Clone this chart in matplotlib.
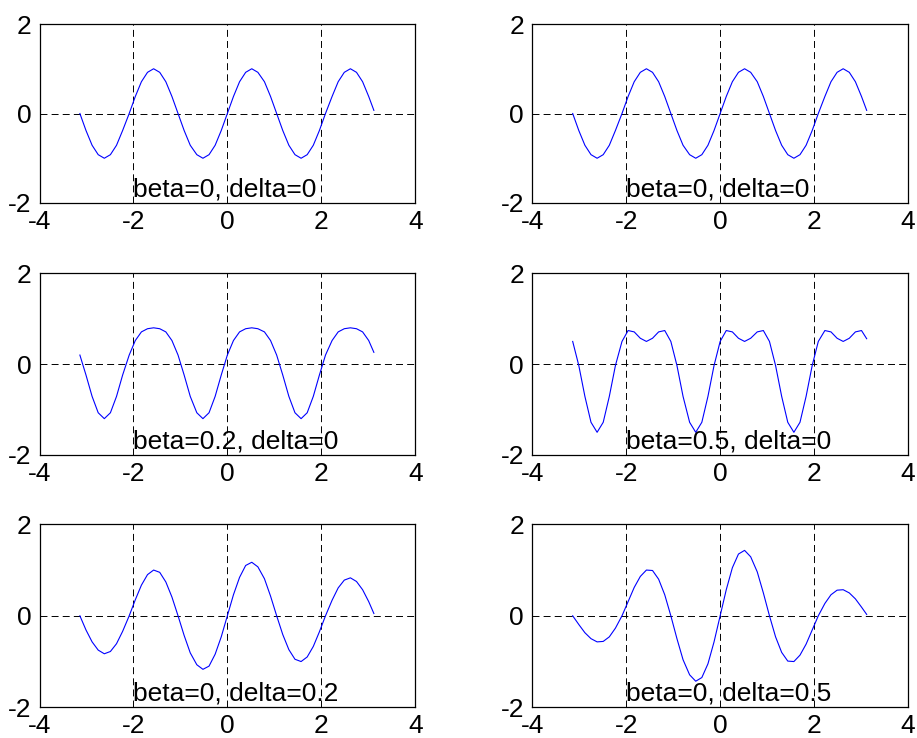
import matplotlib as mpl
mpl.use('Agg')
import matplotlib.pyplot as plt

plt.rc('font', family='Liberation Sans', size=19)
plt.rc('lines', scale_dashes=False)
plt.rc('axes', unicode_minus=False)

# sample points, -pi .. pi
x = [-3.14, -3.01, -2.88, -2.75, -2.62, -2.49, -2.36, -2.23,
     -2.09, -1.96, -1.83, -1.70, -1.57, -1.44, -1.31, -1.18,
     -1.05, -0.92, -0.79, -0.65, -0.52, -0.39, -0.26, -0.13,
     0.00, 0.13, 0.26, 0.39, 0.52, 0.65, 0.79, 0.92,
     1.05, 1.18, 1.31, 1.44, 1.57, 1.70, 1.83, 1.96,
     2.09, 2.23, 2.36, 2.49, 2.62, 2.75, 2.88, 3.01, 3.12]

y_b0_d0 = [0, -.38, -.71, -.92, -1, -.92, -.71, -.38,
           0, .38, .71, .92, 1, .92, .71, .38,
           0, -.38, -.71, -.92, -1, -.92, -.71, -.38,
           0, .38, .71, .92, 1, .92, .71, .38,
           0, -.38, -.71, -.92, -1, -.92, -.71, -.38,
           0, .38, .71, .92, 1, .92, .71, .38, .07]

y_b02 = [.2, -.24, -.71, -1.07, -1.2, -1.07, -.71, -.24,
         .2, .52, .71, .78, .8, .78, .71, .52,
         .2, -.24, -.71, -1.07, -1.2, -1.07, -.71, -.24,
         .2, .52, .71, .78, .8, .78, .71, .52,
         .2, -.24, -.71, -1.07, -1.2, -1.07, -.71, -.24,
         .2, .52, .71, .78, .8, .78, .71, .52, .26]

y_b05 = [.5, -.03, -.71, -1.28, -1.5, -1.28, -.71, -.03,
         .5, .74, .71, .57, .5, .57, .71, .74,
         .5, -.03, -.71, -1.28, -1.5, -1.28, -.71, -.03,
         .5, .74, .71, .57, .5, .57, .71, .74,
         .5, -.03, -.71, -1.28, -1.5, -1.28, -.71, -.03,
         .5, .74, .71, .57, .5, .57, .71, .74, .56]

y_d02 = [0, -.31, -.57, -.75, -.83, -.78, -.61, -.34,
         0, .35, .67, .90, 1.0, .95, .74, .41,
         0, -.43, -.81, -1.07, -1.17, -1.10, -.84, -.46,
         0, .46, .84, 1.10, 1.17, 1.07, .81, .43,
         0, -.41, -.74, -.95, -1.0, -.90, -.67, -.35,
         0, .34, .61, .78, .83, .75, .57, .31, .05]

y_d05 = [0, -.19, -.37, -.50, -.57, -.56, -.46, -.27,
         0, .31, .62, .86, 1.0, .99, .80, .46,
         0, -.50, -.96, -1.29, -1.43, -1.35, -1.05, -.57,
         0, .57, 1.05, 1.35, 1.43, 1.29, .96, .50,
         0, -.46, -.80, -.99, -1.0, -.86, -.62, -.31,
         0, .27, .46, .56, .57, .50, .37, .19, .03]

series = [y_b0_d0, y_b0_d0, y_b02, y_b05, y_d02, y_d05]
labels = ["beta=0, delta=0", "beta=0, delta=0",
          "beta=0.2, delta=0", "beta=0.5, delta=0",
          "beta=0, delta=0.2", "beta=0, delta=0.5"]

W, H = 917, 738
lefts = [39.5, 532.3]
width = 375.7
rows = [(24, 203), (273.3, 455), (524.3, 707.3)]

fig = plt.figure(figsize=(W / 100, H / 100), dpi=100)
for i, (y, lab) in enumerate(zip(series, labels)):
    r, c = divmod(i, 2)
    top, bot = rows[r]
    ax = fig.add_axes([lefts[c] / W, 1 - bot / H, width / W, (bot - top) / H])
    ax.plot(x, y, color='b', lw=0.8)
    ax.set_xlim(-4, 4)
    ax.set_ylim(-2, 2)
    ax.set_xticks([-4, -2, 0, 2, 4])
    ax.set_yticks([-2, 0, 2])
    ax.grid(True, color='k', ls=(0, (5, 3)), lw=0.7)
    ax.tick_params(length=0)
    ax.tick_params(axis='x', pad=5)
    ax.tick_params(axis='y', pad=6)
    for s in ax.spines.values():
        s.set_linewidth(0.9)
    ax.text(-2, -1.7, lab, ha='left', va='center')

plt.savefig("out.png", dpi=100)
